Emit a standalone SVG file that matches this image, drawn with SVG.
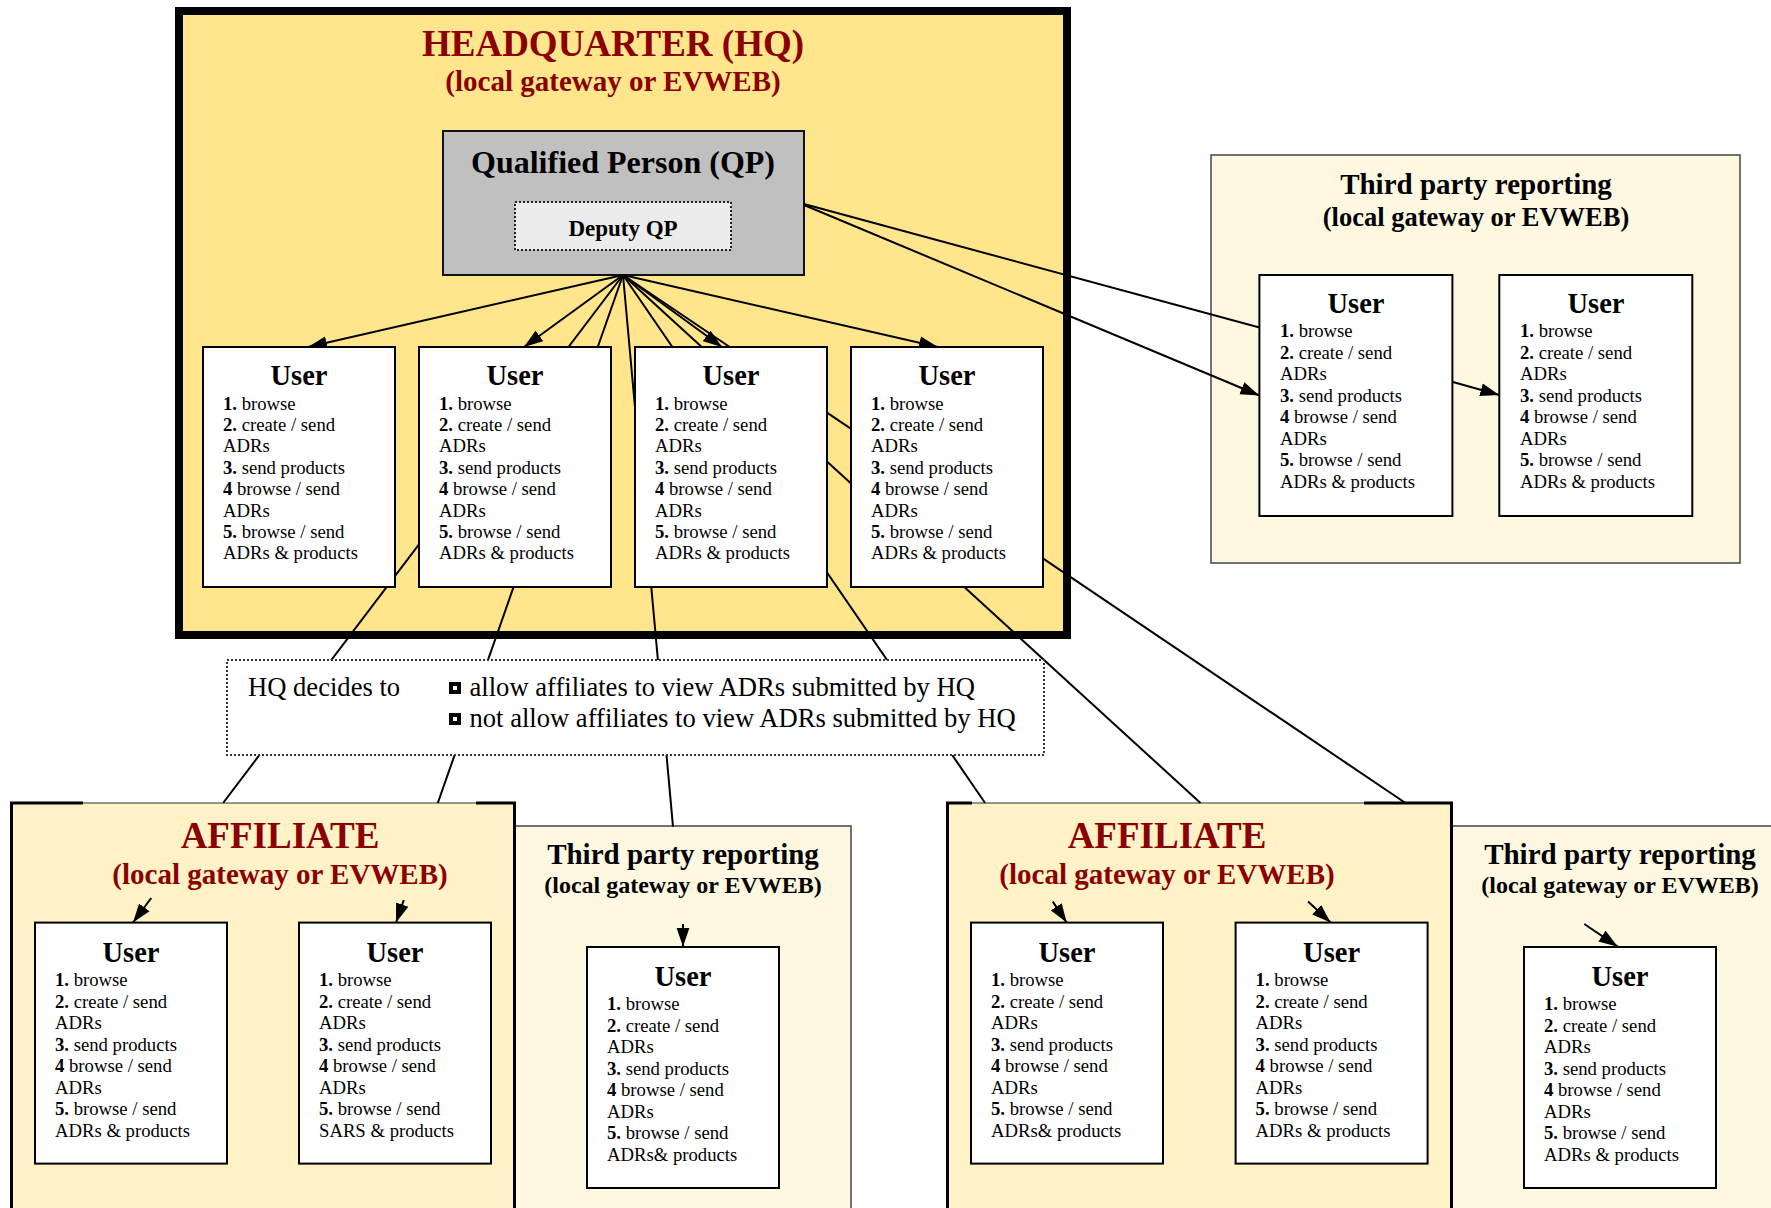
<svg xmlns="http://www.w3.org/2000/svg" width="1771" height="1208" viewBox="0 0 1771 1208">
<style>
text{font-family:"Liberation Serif","Times New Roman",serif;fill:#000}
.red{fill:#8B0000;font-weight:bold;text-anchor:middle}
.hd{font-weight:bold;text-anchor:middle}
.uh{font-weight:bold;font-size:28.5px;text-anchor:middle}
.ul{font-size:18.7px}
.b{font-weight:bold}
.ub{fill:#fff;stroke:#000;stroke-width:2}
.tp{fill:#FFF8E1;stroke:#444;stroke-width:1.5}
.aff{fill:#FFF2C6;stroke:none}
.affb{fill:none;stroke:#000;stroke-width:3}
.afft{fill:none;stroke:#333;stroke-width:1.2}
.conn{fill:none;stroke:#000;stroke-width:2}
.arr{marker-end:url(#ah)}
.dt{font-size:26.6px}
</style>
<defs>
<marker id="ah" markerUnits="userSpaceOnUse" markerWidth="20" markerHeight="14" refX="19" refY="7" orient="auto">
<path d="M0,0.5 L19,7 L0,13.5 Z" fill="#000"/>
</marker>
</defs>
<rect width="1771" height="1208" fill="#fff"/>

<g id="hq">
<rect x="179" y="11" width="888" height="624" fill="#FFE68C" stroke="#000" stroke-width="8"/>
<text class="red" x="613" y="56" font-size="37">HEADQUARTER (HQ)</text>
<text class="red" x="613" y="91" font-size="29">(local gateway or EVWEB)</text>
</g>

<g id="tp-right">
<rect class="tp" x="1211" y="155" width="529" height="408"/>
<text class="hd" x="1476" y="193.5" font-size="29">Third party reporting</text>
<text class="hd" x="1476" y="225.5" font-size="26.5">(local gateway or EVWEB)</text>
</g>

<g id="tp-1">
<rect class="tp" x="515" y="826" width="336" height="400"/>
<text class="hd" x="683" y="864" font-size="29">Third party reporting</text>
<text class="hd" x="683" y="893" font-size="24">(local gateway or EVWEB)</text>
</g>

<g id="tp-2">
<rect class="tp" x="1452" y="826" width="340" height="400"/>
<text class="hd" x="1620" y="864" font-size="29">Third party reporting</text>
<text class="hd" x="1620" y="893" font-size="24">(local gateway or EVWEB)</text>
</g>

<g id="affiliate-1">
<rect class="aff" x="11" y="803" width="504" height="420"/>
<path class="afft" d="M11,803 H515"/>
<path class="affb" d="M83,803 H11.5 V1215 M476,803 H514.5 V1215"/>
<text class="red" x="280" y="848" font-size="37">AFFILIATE</text>
<text class="red" x="280" y="884" font-size="29">(local gateway or EVWEB)</text>
</g>

<g id="affiliate-2">
<rect class="aff" x="947" y="803" width="505" height="420"/>
<path class="afft" d="M947,803 H1452"/>
<path class="affb" d="M972,803 H947.5 V1215 M1364,803 H1451.5 V1215"/>
<text class="red" x="1167" y="848" font-size="37">AFFILIATE</text>
<text class="red" x="1167" y="884" font-size="29">(local gateway or EVWEB)</text>
</g>

<g id="qp">
<rect x="443" y="131" width="361" height="144" fill="#C0C0C0" stroke="#111" stroke-width="2"/>
<text class="hd" x="623" y="173" font-size="32">Qualified Person (QP)</text>
<g id="deputy-qp">
<rect x="515" y="202" width="216" height="48" fill="#ECECEC" stroke="#222" stroke-width="2" stroke-dasharray="2,2"/>
<text class="hd" x="623" y="236" font-size="23">Deputy QP</text>
</g>
</g>

<g id="connectors">
<path class="conn arr" d="M623,275 L308,347"/>
<path class="conn arr" d="M623,275 L524,347"/>
<path class="conn arr" d="M623,275 L722,347"/>
<path class="conn arr" d="M623,275 L938,347"/>
<path class="conn arr" d="M623,275 L223.1,803 M151.2,898 L133,922.6"/>
<path class="conn arr" d="M623,275 L437.8,803 M403.8,900 L396,922.6"/>
<path class="conn arr" d="M623,275 L673,826.6 M683,924 L683,946.7"/>
<path class="conn arr" d="M623,275 L985.1,803 M1052.8,901.6 L1066.7,922.6"/>
<path class="conn arr" d="M623,275 L1200.5,803 M1308,901.6 L1330.6,922.6"/>
<path class="conn arr" d="M623,275 L1405.5,803 M1584.3,924 L1617.7,946.7"/>
<path class="conn" d="M804,204 L1259.4,327.5"/>
<path class="conn arr" d="M804,205 L1259.4,395.5"/>
<path class="conn arr" d="M1452,381.7 L1499.3,395"/>
</g>

<g id="hq-decides">
<rect x="227" y="660" width="817" height="95" fill="#fff" stroke="#333" stroke-width="2" stroke-dasharray="2,2"/>
<text class="dt" x="248" y="696">HQ decides to</text>
<rect x="449" y="682" width="12" height="12" fill="#000"/>
<rect x="453" y="686" width="4" height="4" fill="#fff"/>
<text class="dt" x="469.5" y="696">allow affiliates to view ADRs submitted by HQ</text>
<rect x="449" y="713" width="12" height="12" fill="#000"/>
<rect x="453" y="717" width="4" height="4" fill="#fff"/>
<text class="dt" x="469.5" y="727">not allow affiliates to view ADRs submitted by HQ</text>
</g>

<g id="hq-user-1">
<rect class="ub" x="203" y="347" width="192" height="240"/>
<text class="uh" x="299" y="385">User</text>
<text class="ul"><tspan x="223" y="409.5"><tspan class="b">1.</tspan> browse</tspan><tspan x="223" y="430.9"><tspan class="b">2.</tspan> create / send</tspan><tspan x="223" y="452.3">ADRs</tspan><tspan x="223" y="473.7"><tspan class="b">3.</tspan> send products</tspan><tspan x="223" y="495.1"><tspan class="b">4</tspan> browse / send</tspan><tspan x="223" y="516.5">ADRs</tspan><tspan x="223" y="537.9"><tspan class="b">5.</tspan> browse / send</tspan><tspan x="223" y="559.3">ADRs &amp; products</tspan></text>
</g>
<g id="hq-user-2">
<rect class="ub" x="419" y="347" width="192" height="240"/>
<text class="uh" x="515" y="385">User</text>
<text class="ul"><tspan x="439" y="409.5"><tspan class="b">1.</tspan> browse</tspan><tspan x="439" y="430.9"><tspan class="b">2.</tspan> create / send</tspan><tspan x="439" y="452.3">ADRs</tspan><tspan x="439" y="473.7"><tspan class="b">3.</tspan> send products</tspan><tspan x="439" y="495.1"><tspan class="b">4</tspan> browse / send</tspan><tspan x="439" y="516.5">ADRs</tspan><tspan x="439" y="537.9"><tspan class="b">5.</tspan> browse / send</tspan><tspan x="439" y="559.3">ADRs &amp; products</tspan></text>
</g>
<g id="hq-user-3">
<rect class="ub" x="635" y="347" width="192" height="240"/>
<text class="uh" x="731" y="385">User</text>
<text class="ul"><tspan x="655" y="409.5"><tspan class="b">1.</tspan> browse</tspan><tspan x="655" y="430.9"><tspan class="b">2.</tspan> create / send</tspan><tspan x="655" y="452.3">ADRs</tspan><tspan x="655" y="473.7"><tspan class="b">3.</tspan> send products</tspan><tspan x="655" y="495.1"><tspan class="b">4</tspan> browse / send</tspan><tspan x="655" y="516.5">ADRs</tspan><tspan x="655" y="537.9"><tspan class="b">5.</tspan> browse / send</tspan><tspan x="655" y="559.3">ADRs &amp; products</tspan></text>
</g>
<g id="hq-user-4">
<rect class="ub" x="851" y="347" width="192" height="240"/>
<text class="uh" x="947" y="385">User</text>
<text class="ul"><tspan x="871" y="409.5"><tspan class="b">1.</tspan> browse</tspan><tspan x="871" y="430.9"><tspan class="b">2.</tspan> create / send</tspan><tspan x="871" y="452.3">ADRs</tspan><tspan x="871" y="473.7"><tspan class="b">3.</tspan> send products</tspan><tspan x="871" y="495.1"><tspan class="b">4</tspan> browse / send</tspan><tspan x="871" y="516.5">ADRs</tspan><tspan x="871" y="537.9"><tspan class="b">5.</tspan> browse / send</tspan><tspan x="871" y="559.3">ADRs &amp; products</tspan></text>
</g>

<g id="tp-right-user-1">
<rect class="ub" x="1259.4" y="275" width="193" height="241"/>
<text class="uh" x="1356" y="312.5">User</text>
<text class="ul"><tspan x="1280" y="337"><tspan class="b">1.</tspan> browse</tspan><tspan x="1280" y="358.55"><tspan class="b">2.</tspan> create / send</tspan><tspan x="1280" y="380.1">ADRs</tspan><tspan x="1280" y="401.65"><tspan class="b">3.</tspan> send products</tspan><tspan x="1280" y="423.2"><tspan class="b">4</tspan> browse / send</tspan><tspan x="1280" y="444.75">ADRs</tspan><tspan x="1280" y="466.3"><tspan class="b">5.</tspan> browse / send</tspan><tspan x="1280" y="487.85">ADRs &amp; products</tspan></text>
</g>
<g id="tp-right-user-2">
<rect class="ub" x="1499.3" y="275" width="193" height="241"/>
<text class="uh" x="1596" y="312.5">User</text>
<text class="ul"><tspan x="1520" y="337"><tspan class="b">1.</tspan> browse</tspan><tspan x="1520" y="358.55"><tspan class="b">2.</tspan> create / send</tspan><tspan x="1520" y="380.1">ADRs</tspan><tspan x="1520" y="401.65"><tspan class="b">3.</tspan> send products</tspan><tspan x="1520" y="423.2"><tspan class="b">4</tspan> browse / send</tspan><tspan x="1520" y="444.75">ADRs</tspan><tspan x="1520" y="466.3"><tspan class="b">5.</tspan> browse / send</tspan><tspan x="1520" y="487.85">ADRs &amp; products</tspan></text>
</g>

<g id="aff1-user-1">
<rect class="ub" x="35" y="922.6" width="192" height="241"/>
<text class="uh" x="131" y="962">User</text>
<text class="ul"><tspan x="55" y="986"><tspan class="b">1.</tspan> browse</tspan><tspan x="55" y="1007.55"><tspan class="b">2.</tspan> create / send</tspan><tspan x="55" y="1029.1">ADRs</tspan><tspan x="55" y="1050.65"><tspan class="b">3.</tspan> send products</tspan><tspan x="55" y="1072.2"><tspan class="b">4</tspan> browse / send</tspan><tspan x="55" y="1093.75">ADRs</tspan><tspan x="55" y="1115.3"><tspan class="b">5.</tspan> browse / send</tspan><tspan x="55" y="1136.85">ADRs &amp; products</tspan></text>
</g>
<g id="aff1-user-2">
<rect class="ub" x="299" y="922.6" width="192" height="241"/>
<text class="uh" x="395" y="962">User</text>
<text class="ul"><tspan x="319" y="986"><tspan class="b">1.</tspan> browse</tspan><tspan x="319" y="1007.55"><tspan class="b">2.</tspan> create / send</tspan><tspan x="319" y="1029.1">ADRs</tspan><tspan x="319" y="1050.65"><tspan class="b">3.</tspan> send products</tspan><tspan x="319" y="1072.2"><tspan class="b">4</tspan> browse / send</tspan><tspan x="319" y="1093.75">ADRs</tspan><tspan x="319" y="1115.3"><tspan class="b">5.</tspan> browse / send</tspan><tspan x="319" y="1136.85">SARS &amp; products</tspan></text>
</g>
<g id="tp1-user">
<rect class="ub" x="587" y="947" width="192" height="241"/>
<text class="uh" x="683" y="986">User</text>
<text class="ul"><tspan x="607" y="1010"><tspan class="b">1.</tspan> browse</tspan><tspan x="607" y="1031.55"><tspan class="b">2.</tspan> create / send</tspan><tspan x="607" y="1053.1">ADRs</tspan><tspan x="607" y="1074.65"><tspan class="b">3.</tspan> send products</tspan><tspan x="607" y="1096.2"><tspan class="b">4</tspan> browse / send</tspan><tspan x="607" y="1117.75">ADRs</tspan><tspan x="607" y="1139.3"><tspan class="b">5.</tspan> browse / send</tspan><tspan x="607" y="1160.85">ADRs&amp; products</tspan></text>
</g>
<g id="aff2-user-1">
<rect class="ub" x="971" y="922.6" width="192" height="241"/>
<text class="uh" x="1067" y="962">User</text>
<text class="ul"><tspan x="991" y="986"><tspan class="b">1.</tspan> browse</tspan><tspan x="991" y="1007.55"><tspan class="b">2.</tspan> create / send</tspan><tspan x="991" y="1029.1">ADRs</tspan><tspan x="991" y="1050.65"><tspan class="b">3.</tspan> send products</tspan><tspan x="991" y="1072.2"><tspan class="b">4</tspan> browse / send</tspan><tspan x="991" y="1093.75">ADRs</tspan><tspan x="991" y="1115.3"><tspan class="b">5.</tspan> browse / send</tspan><tspan x="991" y="1136.85">ADRs&amp; products</tspan></text>
</g>
<g id="aff2-user-2">
<rect class="ub" x="1235.6" y="922.6" width="192" height="241"/>
<text class="uh" x="1331.6" y="962">User</text>
<text class="ul"><tspan x="1255.6" y="986"><tspan class="b">1.</tspan> browse</tspan><tspan x="1255.6" y="1007.55"><tspan class="b">2.</tspan> create / send</tspan><tspan x="1255.6" y="1029.1">ADRs</tspan><tspan x="1255.6" y="1050.65"><tspan class="b">3.</tspan> send products</tspan><tspan x="1255.6" y="1072.2"><tspan class="b">4</tspan> browse / send</tspan><tspan x="1255.6" y="1093.75">ADRs</tspan><tspan x="1255.6" y="1115.3"><tspan class="b">5.</tspan> browse / send</tspan><tspan x="1255.6" y="1136.85">ADRs &amp; products</tspan></text>
</g>
<g id="tp2-user">
<rect class="ub" x="1524" y="947" width="192" height="241"/>
<text class="uh" x="1620" y="986">User</text>
<text class="ul"><tspan x="1544" y="1010"><tspan class="b">1.</tspan> browse</tspan><tspan x="1544" y="1031.55"><tspan class="b">2.</tspan> create / send</tspan><tspan x="1544" y="1053.1">ADRs</tspan><tspan x="1544" y="1074.65"><tspan class="b">3.</tspan> send products</tspan><tspan x="1544" y="1096.2"><tspan class="b">4</tspan> browse / send</tspan><tspan x="1544" y="1117.75">ADRs</tspan><tspan x="1544" y="1139.3"><tspan class="b">5.</tspan> browse / send</tspan><tspan x="1544" y="1160.85">ADRs &amp; products</tspan></text>
</g>
</svg>
